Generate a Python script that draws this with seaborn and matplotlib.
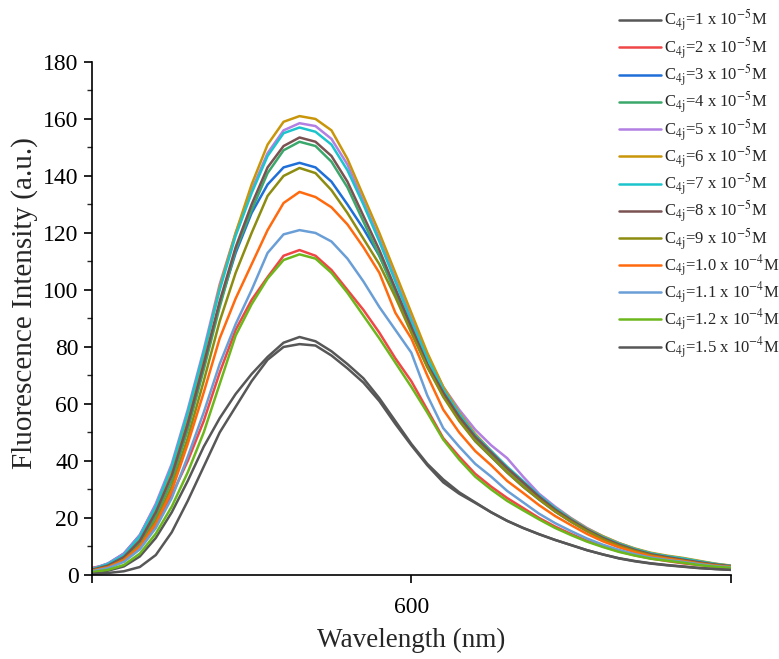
import pandas as pd
import seaborn as sns
import matplotlib.pyplot as plt
from matplotlib.ticker import MultipleLocator

# --- DATA ---
WAVELENGTH = list(range(500, 701, 5))

C_1E5 = [0.8, 1.5, 3.0, 6.5, 13, 22, 33, 45, 55, 63.5, 70.5, 76.5, 81.5, 83.5, 82, 78.5, 74, 69, 62, 54,
         46, 39, 33.5, 29, 25.5, 22, 19, 16.5, 14.3, 12.3, 10.5, 8.7, 7.2, 5.9, 4.9, 4.1, 3.5, 3.0, 2.5, 2.1, 1.8]
C_2E5 = [2.5, 3.5, 5.5, 10, 17.5, 28, 40, 54, 71, 86, 96.5, 104.5, 112, 114, 112, 107, 100, 93, 85, 76,
         68, 58, 48, 41.5, 35.5, 31, 27, 23.5, 20, 17, 14.4, 12, 10, 8.3, 6.9, 5.8, 4.9, 4.1, 3.5, 2.9, 2.5]
C_3E5 = [2.0, 4.0, 7.5, 14, 24.5, 38, 55, 74, 95, 113, 127, 137, 143, 144.6, 143, 138, 130, 121.5, 112, 100,
         87, 74, 63, 54.5, 47, 41.5, 36, 31, 26.5, 22.3, 18.7, 15.4, 12.5, 10.2, 8.4, 6.9, 5.9, 5.0, 4.1, 3.4, 2.9]
C_4E5 = [1.6, 3.0, 5.8, 11, 20.5, 33, 51, 72, 94, 114, 128, 141, 149, 152, 150.5, 145, 136, 124, 112, 99,
         85.5, 73, 63, 55, 48, 42.5, 37, 32, 27, 22.7, 19, 15.6, 12.8, 10.5, 8.6, 7.1, 6.0, 5.1, 4.2, 3.5, 3.0]
C_5E5 = [2.2, 4.0, 7.5, 14, 25, 39, 58, 79, 102, 120, 135, 148, 156, 158.5, 157.5, 153, 144, 131, 118, 104,
         90, 77, 66, 58, 51, 45.5, 41, 34.5, 28.5, 24, 20, 16.5, 13.6, 11.2, 9.2, 7.6, 6.6, 5.8, 4.8, 3.9, 3.2]
C_6E5 = [2.0, 3.5, 6.5, 12.5, 23, 37, 56, 77, 101, 120, 137, 151, 159, 161, 160, 156, 146, 133, 120, 106,
         92, 78, 66, 57, 49.5, 43.5, 37.5, 32.5, 27.5, 23.5, 19.8, 16.3, 13.6, 11.2, 9.3, 7.8, 6.8, 6.0, 5.0, 4.0, 3.3]
C_7E5 = [2.0, 3.8, 7, 13.5, 24, 38, 57, 78, 100, 119, 134, 147, 155, 157, 155.5, 151, 142, 130, 117, 103,
         89, 76, 65, 56.5, 49, 43.5, 38, 33, 28, 23.5, 19.6, 16.1, 13.3, 11, 9.1, 7.6, 6.6, 5.8, 4.8, 3.9, 3.2]
C_8E5 = [1.8, 3.3, 6.3, 12, 22, 35, 53, 74, 96, 115, 130, 143, 150.5, 153.5, 152, 147, 138, 126, 114, 100.5,
         87, 74, 64, 55.5, 48.5, 43, 37.5, 32.5, 27.5, 23, 19.3, 15.9, 13, 10.7, 8.8, 7.3, 6.3, 5.4, 4.5, 3.7, 3.1]
C_9E5 = [1.5, 2.8, 5.4, 10.3, 19, 31, 48, 68, 89, 106, 120, 133, 140, 142.8, 141, 135, 127, 118, 109, 97.5,
         85, 73, 62.5, 54, 47, 41.5, 36, 31, 26.5, 22.3, 18.7, 15.4, 12.5, 10.2, 8.4, 6.9, 5.9, 5.0, 4.1, 3.4, 2.9]
C_10E5 = [1.5, 2.7, 5.2, 10, 18, 29.5, 46, 64, 83, 97, 109, 121, 130.5, 134.4, 132.6, 129, 123, 115, 106, 92,
          83, 70, 58, 50, 43.5, 38.5, 33, 28.8, 24.5, 20.7, 17.5, 14.4, 11.8, 9.7, 8.0, 6.6, 5.7, 4.9, 4.0, 3.3, 2.8]
C_11E5 = [1.3, 2.4, 4.6, 9, 16.5, 27, 41.5, 57, 74, 88, 100, 113, 119.5, 121, 120, 117, 111, 103, 94, 86,
          78, 63, 51.5, 45, 39, 34.5, 29.5, 25.5, 21.5, 18.2, 15.4, 12.8, 10.6, 8.8, 7.3, 6.1, 5.3, 4.6, 3.8, 3.1, 2.7]
C_12E5 = [1.0, 1.8, 3.5, 7.5, 14.5, 24, 36, 50, 67, 84, 95, 104, 110.5, 112.5, 111, 106, 99, 91, 83, 74.5,
          66, 57, 47.5, 40.5, 34.5, 30, 26, 22.7, 19.5, 16.5, 14, 11.7, 9.8, 8.1, 6.8, 5.7, 5.0, 4.3, 3.5, 2.9, 2.5]
C_15E5 = [0.4, 0.7, 1.3, 2.8, 7, 15, 26, 38, 50, 59, 68, 75.5, 80, 81, 80.5, 77, 72.5, 67.5, 61, 53,
          45.5, 38.5, 32.5, 28.5, 25.3, 22, 19, 16.5, 14.3, 12.3, 10.5, 8.7, 7.2, 5.8, 4.8, 4.0, 3.4, 2.9, 2.4, 2.1, 1.8]

SERIES = [C_1E5, C_2E5, C_3E5, C_4E5, C_5E5, C_6E5, C_7E5, C_8E5, C_9E5, C_10E5, C_11E5, C_12E5, C_15E5]
LABELS = [
    r"C$_{\mathrm{4j}}$=1 x 10$^{\mathrm{-5}}$M",
    r"C$_{\mathrm{4j}}$=2 x 10$^{\mathrm{-5}}$M",
    r"C$_{\mathrm{4j}}$=3 x 10$^{\mathrm{-5}}$M",
    r"C$_{\mathrm{4j}}$=4 x 10$^{\mathrm{-5}}$M",
    r"C$_{\mathrm{4j}}$=5 x 10$^{\mathrm{-5}}$M",
    r"C$_{\mathrm{4j}}$=6 x 10$^{\mathrm{-5}}$M",
    r"C$_{\mathrm{4j}}$=7 x 10$^{\mathrm{-5}}$M",
    r"C$_{\mathrm{4j}}$=8 x 10$^{\mathrm{-5}}$M",
    r"C$_{\mathrm{4j}}$=9 x 10$^{\mathrm{-5}}$M",
    r"C$_{\mathrm{4j}}$=1.0 x 10$^{\mathrm{-4}}$M",
    r"C$_{\mathrm{4j}}$=1.1 x 10$^{\mathrm{-4}}$M",
    r"C$_{\mathrm{4j}}$=1.2 x 10$^{\mathrm{-4}}$M",
    r"C$_{\mathrm{4j}}$=1.5 x 10$^{\mathrm{-4}}$M",
]
COLORS = ["#575757", "#f04646", "#1f6fd8", "#3aa86b", "#b27fe2", "#c9960a", "#1cc4cc",
          "#7b5252", "#8c8c10", "#ff6a0e", "#6a9ed6", "#6cb81c", "#575757"]

# --- PLOTTING ---
rows = []
for label, values in zip(LABELS, SERIES):
    for wl, v in zip(WAVELENGTH, values):
        rows.append({"Wavelength": wl, "Intensity": v, "Sample": label})
df = pd.DataFrame(rows)

sns.set_style("ticks")
plt.rcParams["font.family"] = ["Liberation Serif", "DejaVu Serif"]
plt.rcParams["mathtext.fontset"] = "stix"

fig = plt.figure(figsize=(7.79, 6.59), dpi=100)
ax = fig.add_axes([0.118, 0.1275, 0.82, 0.7785])

sns.lineplot(data=df, x="Wavelength", y="Intensity", hue="Sample", hue_order=LABELS,
             palette=COLORS, linewidth=1.8, ax=ax, legend=True)

ax.set_xlim(500, 700)
ax.set_ylim(0, 180)
ax.set_xticks([500, 600, 700])
ax.set_xticklabels(["", "600", ""])
ax.yaxis.set_major_locator(MultipleLocator(20))
ax.yaxis.set_minor_locator(MultipleLocator(10))
ax.tick_params(axis="both", which="major", direction="out", length=6, width=1.2,
               labelsize=17, colors="black")
ax.tick_params(axis="x", which="major", pad=10)
ax.tick_params(axis="y", which="minor", direction="out", length=3.5, width=1.0)
for side in ["top", "right"]:
    ax.spines[side].set_visible(False)
for side in ["left", "bottom"]:
    ax.spines[side].set_linewidth(1.2)
    ax.spines[side].set_color("black")

ax.set_xlabel("Wavelength (nm)", fontsize=19.5, labelpad=7)
ax.set_ylabel("Fluorescence Intensity (a.u.)", fontsize=21)
ax.yaxis.set_label_coords(-0.084, 0.53)

handles, labels = ax.get_legend_handles_labels()
ax.legend(handles, labels, loc="upper left", bbox_to_anchor=(0.795, 0.988),
          bbox_transform=fig.transFigure, frameon=False, fontsize=12,
          handlelength=2.5, handletextpad=0.2, labelspacing=0.1,
          borderpad=0, borderaxespad=0)

fig.savefig("out.png", dpi=100)
